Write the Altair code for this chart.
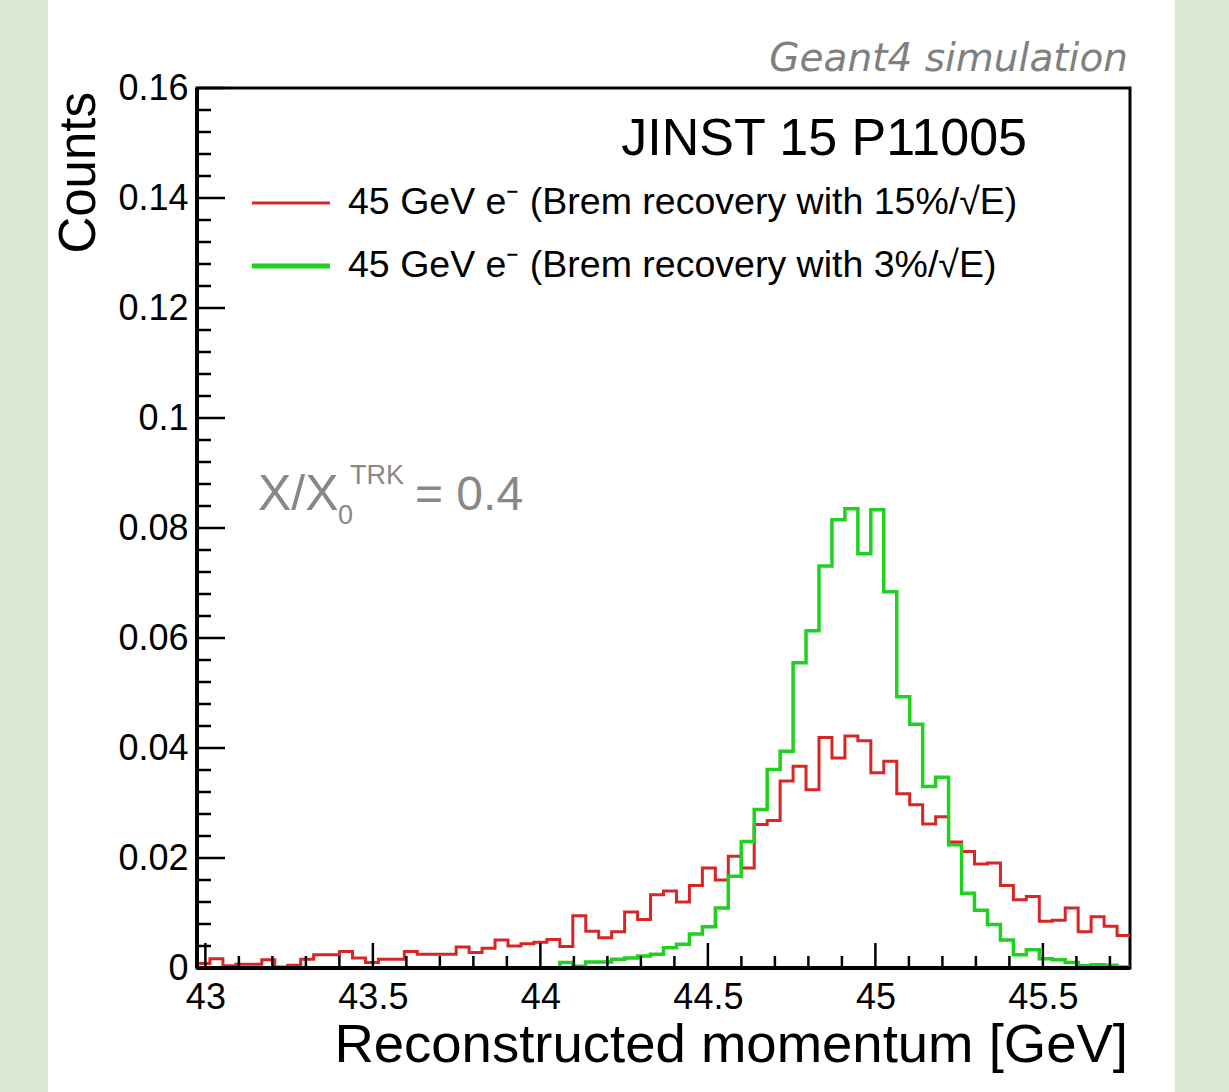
import altair as alt
import numpy as np
import pandas as pd

# ---------------- data ----------------
X_LO, X_HI = 42.975, 45.76
N_BINS = 72

red_vals = [0.0008, 0.0017, 0.0004, 0.0007, 0.0007, 0.0015, 0.0002, 0.0005, 0.0016, 0.0024,
            0.0024, 0.0030, 0.0018, 0.0010, 0.0016, 0.0016, 0.0030, 0.0025, 0.0025, 0.0025,
            0.0038, 0.0028, 0.0036, 0.0051, 0.0040, 0.0044, 0.0047, 0.0052, 0.0039, 0.0095,
            0.0067, 0.0055, 0.0066, 0.0102, 0.0088, 0.0133, 0.0140, 0.0120, 0.0150, 0.0182,
            0.0160, 0.0203, 0.0182, 0.0261, 0.0268, 0.0340, 0.0367, 0.0324, 0.0419, 0.0382,
            0.0422, 0.0413, 0.0355, 0.0376, 0.0317, 0.0297, 0.0262, 0.0275, 0.0229, 0.0212,
            0.0189, 0.0191, 0.0150, 0.0124, 0.0130, 0.0085, 0.0087, 0.0109, 0.0066, 0.0093,
            0.0076, 0.0059]

green_vals = [0.0, 0.0, 0.0, 0.0, 0.0, 0.0, 0.0, 0.0, 0.0, 0.0,
              0.0, 0.0, 0.0, 0.0, 0.0, 0.0, 0.0, 0.0, 0.0, 0.0,
              0.0, 0.0, 0.0, 0.0, 0.0, 0.0, 0.0, 0.0, 0.0010, 0.0003,
              0.0011, 0.0011, 0.0016, 0.0018, 0.0022, 0.0025, 0.0037, 0.0043, 0.0062, 0.0075,
              0.0109, 0.0167, 0.0230, 0.0288, 0.0361, 0.0394, 0.0555, 0.0613, 0.0731, 0.0815,
              0.0835, 0.0753, 0.0833, 0.0684, 0.0493, 0.0443, 0.0330, 0.0347, 0.0224, 0.0136,
              0.0105, 0.0079, 0.0051, 0.0024, 0.0033, 0.0017, 0.0015, 0.0010, 0.0004, 0.0006,
              0.0005, 0.0002]

x_major = [43, 43.5, 44, 44.5, 45, 45.5]
x_minor = [43.1, 43.2, 43.3, 43.4, 43.6, 43.7, 43.8, 43.9, 44.1, 44.2, 44.3, 44.4,
           44.6, 44.7, 44.8, 44.9, 45.1, 45.2, 45.3, 45.4, 45.6, 45.7]
y_major = [0, 0.02, 0.04, 0.06, 0.08, 0.1, 0.12, 0.14, 0.16]
y_minor = [0.004, 0.008, 0.012, 0.016, 0.024, 0.028, 0.032, 0.036, 0.044, 0.048, 0.052, 0.056,
           0.064, 0.068, 0.072, 0.076, 0.084, 0.088, 0.092, 0.096, 0.104, 0.108, 0.112, 0.116,
           0.124, 0.128, 0.132, 0.136, 0.144, 0.148, 0.152, 0.156]

legend_red = "45 GeV e\u207b (Brem recovery with 15%/\u221aE)"
legend_green = "45 GeV e\u207b (Brem recovery with 3%/\u221aE)"

# ---------------- style ----------------
RED = "#d82626"
GREEN = "#1fd21f"
SIDE_BG = "#dbe8d4"
FONT = "Liberation Sans"
W, H = 933, 880

edges = np.linspace(X_LO, X_HI, N_BINS + 1)


def step_df(vals):
    return pd.DataFrame({"x": list(edges[:-1]) + [edges[-1]],
                         "y": list(vals) + [vals[-1]]})


xscale = alt.Scale(domain=[X_LO, X_HI], nice=False, zero=False)
yscale = alt.Scale(domain=[0, 0.16], nice=False, zero=False)
one = pd.DataFrame({"a": [0]})

AX_X = alt.Axis(values=x_major, format="~g", labelFont=FONT, labelFontSize=36,
                labelColor="black", ticks=False, domain=False, grid=False,
                labelPadding=12, labelFlush=False, labelOverlap=False,
                title=None, zindex=1)
AX_Y = alt.Axis(values=y_major, format="~g", labelFont=FONT, labelFontSize=36,
                labelColor="black", ticks=False, domain=False, grid=False,
                labelPadding=9, labelFlush=False, labelOverlap=False,
                title=None, zindex=1)


def X(field):
    return alt.X(field, type="quantitative", scale=xscale, axis=AX_X, title=None)


def Y(field):
    return alt.Y(field, type="quantitative", scale=yscale, axis=AX_Y, title=None)


# side green strips
side_left = alt.Chart(one).mark_rect(color=SIDE_BG).encode(
    x=alt.value(-197), x2=alt.value(-149), y=alt.value(-88), y2=alt.value(1004))
side_right = alt.Chart(one).mark_rect(color=SIDE_BG).encode(
    x=alt.value(978), x2=alt.value(1032), y=alt.value(-88), y2=alt.value(1004))

# ticks drawn inward
ymaj = alt.Chart(pd.DataFrame({"v": y_major})).mark_rule(color="black", strokeWidth=2.5).encode(
    y=Y("v"), x=alt.value(0), x2=alt.value(28))
ymin = alt.Chart(pd.DataFrame({"v": y_minor})).mark_rule(color="black", strokeWidth=2.5).encode(
    y=Y("v"), x=alt.value(0), x2=alt.value(14))
xmaj = alt.Chart(pd.DataFrame({"v": x_major})).mark_rule(color="black", strokeWidth=2.5).encode(
    x=X("v"), y=alt.value(H), y2=alt.value(H - 25))
xmin = alt.Chart(pd.DataFrame({"v": x_minor})).mark_rule(color="black", strokeWidth=2.5).encode(
    x=X("v"), y=alt.value(H), y2=alt.value(H - 12))

red_line = alt.Chart(step_df(red_vals)).mark_line(
    interpolate="step-after", color=RED, strokeWidth=3, clip=True).encode(
    x=X("x"), y=Y("y"))
green_line = alt.Chart(step_df(green_vals)).mark_line(
    interpolate="step-after", color=GREEN, strokeWidth=3.5, clip=True).encode(
    x=X("x"), y=Y("y"))

# left and bottom frame lines thicker
left_line = alt.Chart(one).mark_rule(color="black", strokeWidth=4).encode(
    x=alt.value(0), y=alt.value(0), y2=alt.value(H))
bottom_line = alt.Chart(one).mark_rule(color="black", strokeWidth=4).encode(
    x=alt.value(0), x2=alt.value(W), y=alt.value(H))


def txt(s, x, y, size, color="black", align="left", baseline="alphabetic",
        font=FONT, style="normal", angle=0):
    kw = dict(text=s, fontSize=size, color=color, align=align, baseline=baseline,
              font=font, fontStyle=style)
    if angle:
        kw["angle"] = angle
    return alt.Chart(one).mark_text(**kw).encode(x=alt.value(x), y=alt.value(y))


texts = [
    txt("Geant4 simulation", 931, -17, 39, color="#808080", align="right",
        font="DejaVu Sans", style="italic"),
    txt("JINST 15 P11005", 830, 67, 52, align="right"),
    txt(legend_red, 151, 115, 37.5, baseline="middle"),
    txt(legend_green, 151, 178, 37.5, baseline="middle"),
    txt("X/X", 61, 422, 50, color="#888888"),
    txt("0", 141, 436, 27, color="#888888"),
    txt("TRK", 153, 396, 27, color="#888888"),
    txt("= 0.4", 218, 422, 48, color="#888888"),
    txt("Counts", -117, 4, 51, align="right", baseline="middle", angle=270),
    txt("Reconstructed momentum [GeV]", 931, 974, 54.5, align="right"),
]

leg_red = alt.Chart(one).mark_rule(color=RED, strokeWidth=3).encode(
    x=alt.value(55), x2=alt.value(133), y=alt.value(115))
leg_green = alt.Chart(one).mark_rule(color=GREEN, strokeWidth=5).encode(
    x=alt.value(55), x2=alt.value(133), y=alt.value(178))

chart = alt.layer(
    red_line, side_left, side_right, green_line,
    ymaj, ymin, xmaj, xmin, left_line, bottom_line, leg_red, leg_green, *texts
).properties(
    width=W, height=H,
    autosize=alt.AutoSizeParams(type="none"),
    padding={"left": 197, "top": 88, "right": 99, "bottom": 124},
    background="white",
).configure_view(stroke="black", strokeWidth=3)

chart.save("out.html", embed_options={"renderer": "svg", "actions": False})
